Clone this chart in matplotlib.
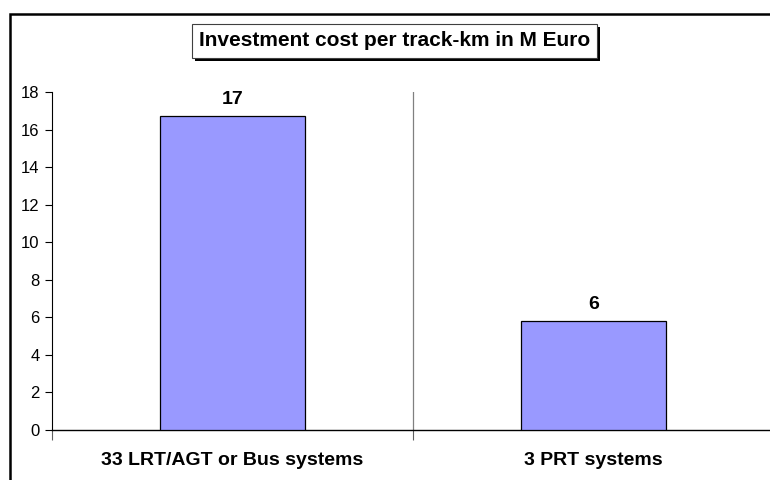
import matplotlib
matplotlib.use("Agg")
import matplotlib.pyplot as plt
from matplotlib.patches import Rectangle

# Data
categories = ["33 LRT/AGT or Bus systems", "3 PRT systems"]
values = [16.7, 5.8]
value_labels = ["17", "6"]
title = "Investment cost per track-km in M Euro"

plt.rcParams["font.family"] = ["Liberation Sans", "DejaVu Sans"]

W, H = 770, 480
fig = plt.figure(figsize=(W / 100, H / 100), dpi=100)

# outer chart border (runs off the right and bottom edges)
fig.patches.append(Rectangle((10 / W, -0.05), 1.2, (480 - 14) / H + 0.05,
                             transform=fig.transFigure, fill=False,
                             edgecolor="black", linewidth=1.8))

ax = fig.add_axes([52 / W, 50 / H, 722 / W, 338 / H])
x = list(range(len(categories)))
ax.bar(x, values, width=0.4, color="#9999FF", edgecolor="black", linewidth=0.9, zorder=3)

for xi, v, lab in zip(x, values, value_labels):
    ax.annotate(lab, (xi, v), xytext=(0, 6), textcoords="offset points",
                ha="center", va="bottom", fontsize=14, fontweight="bold")

ax.set_xlim(-0.5, len(categories) - 0.5)
ax.set_ylim(0, 18)
ax.set_yticks(range(0, 19, 2))
ax.tick_params(axis="y", direction="out", length=5, width=0.8, labelsize=12, pad=4)

# category boundary ticks and the divider line
ax.set_xticks([i - 0.5 for i in range(len(categories) + 1)])
ax.set_xticklabels([])
ax.tick_params(axis="x", direction="out", length=7, width=0.8, color="#606060")
for i in range(1, len(categories)):
    ax.axvline(i - 0.5, color="#808080", linewidth=0.9, zorder=1)
for xi, c in zip(x, categories):
    ax.text(xi, -1.65, c, ha="center", va="center", fontsize=14, fontweight="bold")

for s in ["top", "right"]:
    ax.spines[s].set_visible(False)
ax.spines["left"].set_linewidth(0.8)
ax.spines["bottom"].set_linewidth(1.0)

# title box with a drop shadow
bx0, bx1, by0, by1 = 192, 597, 24, 58
fig.patches.append(Rectangle(((bx0 + 3) / W, 1 - (by1 + 3) / H), (bx1 - bx0) / W, (by1 - by0) / H,
                             transform=fig.transFigure, facecolor="black", edgecolor="none"))
fig.patches.append(Rectangle((bx0 / W, 1 - by1 / H), (bx1 - bx0) / W, (by1 - by0) / H,
                             transform=fig.transFigure, facecolor="white", edgecolor="#404040",
                             linewidth=0.8))
fig.text((bx0 + bx1) / 2 / W, 1 - (by0 + by1) / 2 / H, title, ha="center", va="center",
         fontsize=15, fontweight="bold")

fig.savefig("out.png", dpi=100)
